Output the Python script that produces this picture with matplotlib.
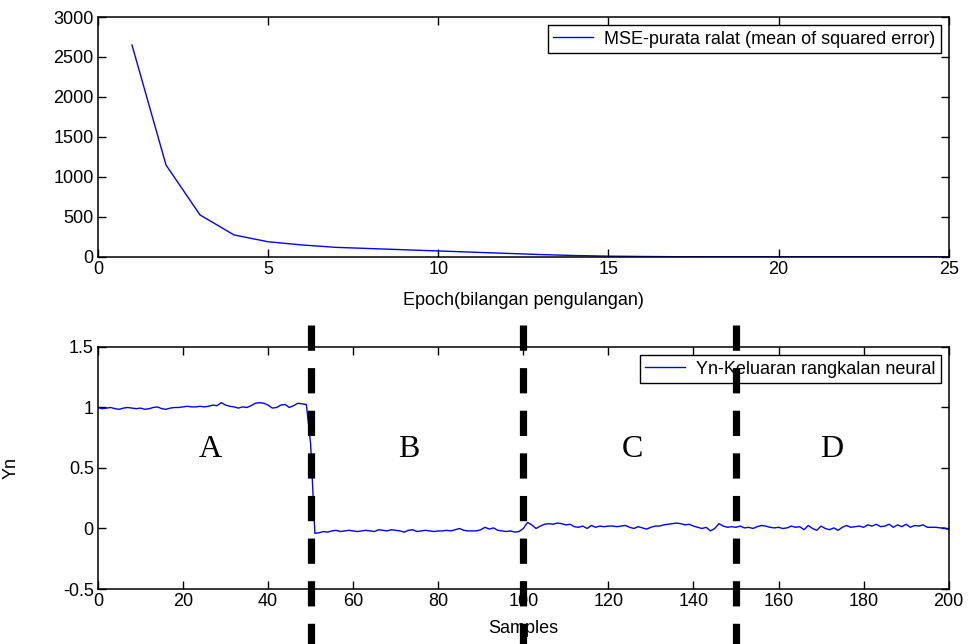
import matplotlib
matplotlib.use("Agg")
import matplotlib.pyplot as plt
from matplotlib.ticker import FuncFormatter

plt.rcParams['font.family'] = ['Liberation Sans', 'DejaVu Sans']
plt.rcParams['axes.unicode_minus'] = False

# training error per epoch
epochs = list(range(1, 26))
mse = [2650, 1150, 525, 275, 190, 150, 120, 105, 90, 75, 60, 45, 30, 18, 10,
       6, 3, 2, 2, 2, 2, 2, 2, 2, 2]

# network output per sample
samples = list(range(0, 201))
yn_a = [1.00, 0.99, 0.995, 1.00, 0.99, 0.985, 0.995, 1.00, 0.995, 0.99,
        0.995, 0.985, 0.99, 1.00, 1.005, 0.99, 0.985, 0.995, 1.00, 1.00,
        1.005, 1.01, 1.005, 1.005, 1.01, 1.005, 1.01, 1.02, 1.015, 1.04,
        1.02, 1.01, 1.005, 0.995, 1.005, 1.00, 1.015, 1.035, 1.04, 1.035,
        1.02, 0.995, 1.00, 1.02, 1.025, 1.00, 1.015, 1.035, 1.03, 1.025]
yn_b = [0.70,
        -0.04, -0.035, -0.025, -0.03, -0.02, -0.015, -0.025, -0.02, -0.015,
        -0.02, -0.025, -0.02, -0.015, -0.02, -0.025, -0.01, -0.015, -0.02, -0.01,
        -0.015, -0.02, -0.03, -0.015, -0.01, -0.025, -0.02, -0.015, -0.02, -0.025,
        -0.02, -0.02, -0.015, -0.02, -0.01, 0.00, -0.015, -0.02, -0.02, -0.02,
        -0.01, 0.01, -0.005, 0.005, -0.015, -0.02, -0.025, -0.02, -0.03, -0.025]
yn_c = [0.00, 0.05, 0.03, 0.00, 0.02, 0.035, 0.04, 0.035, 0.045, 0.04,
        0.03, 0.035, 0.015, 0.01, 0.02, 0.00, 0.025, 0.01, 0.02, 0.015,
        0.02, 0.02, 0.015, 0.02, 0.025, 0.01, 0.00, 0.015, 0.005, -0.005,
        0.01, 0.02, 0.02, 0.03, 0.035, 0.04, 0.045, 0.04, 0.03, 0.035,
        0.02, 0.01, 0.00, 0.01, -0.02, 0.00, 0.04, 0.02, 0.01, 0.015]
yn_d = [0.01, 0.02, 0.005, 0.01, 0.00, 0.015, 0.025, 0.02, 0.01, 0.005,
        0.01, 0.00, 0.005, 0.02, 0.01, 0.015, -0.01, 0.025, 0.00, -0.015,
        0.02, 0.00, -0.01, 0.005, -0.015, 0.01, 0.025, 0.01, 0.015, 0.02,
        0.01, 0.03, 0.02, 0.035, 0.015, 0.02, 0.035, 0.01, 0.03, 0.015,
        0.035, 0.01, 0.025, 0.02, 0.03, 0.01, 0.01, 0.01, 0.005, 0.005,
        -0.01]
yn = yn_a + yn_b + yn_c + yn_d

segment_bounds = [50, 100, 150]
region_labels = ['A', 'B', 'C', 'D']
region_label_x = [26.3, 73, 125.6, 172.5]

fig = plt.figure(figsize=(9.68, 6.44), dpi=100)
ax1 = fig.add_axes([0.1012, 0.601, 0.8788, 0.3726])
ax2 = fig.add_axes([0.1012, 0.0854, 0.8788, 0.3758])

fs = 13
fmt = FuncFormatter(lambda v, p: '%g' % v)
for ax in (ax1, ax2):
    ax.tick_params(direction='in', top=True, right=True, length=6, width=1,
                   labelsize=fs, pad=3)
    ax.tick_params(axis='y', pad=3)
    for s in ax.spines.values():
        s.set_linewidth(1.1)
    ax.xaxis.set_major_formatter(fmt)
    ax.yaxis.set_major_formatter(fmt)

leg_kw = dict(loc='upper right', fontsize=fs, fancybox=False,
              edgecolor='black', framealpha=1, borderaxespad=0.45,
              borderpad=0.3, handlelength=2.2, handletextpad=0.6)

ax1.plot(epochs, mse, color='#0000ff', lw=1.0,
         label='MSE-purata ralat (mean of squared error)')
ax1.set_xlim(0, 25)
ax1.set_ylim(0, 3000)
ax1.set_xticks(range(0, 26, 5))
ax1.set_yticks(range(0, 3001, 500))
ax1.set_xlabel('Epoch(bilangan pengulangan)', fontsize=fs, labelpad=10)
leg1 = ax1.legend(**leg_kw)
leg1.get_frame().set_linewidth(1.0)

ax2.plot(samples, yn, color='#0000ff', lw=1.0,
         label='Yn-Keluaran rangkalan neural')
ax2.set_xlim(0, 200)
ax2.set_ylim(-0.5, 1.5)
ax2.set_xticks(range(0, 201, 20))
ax2.set_yticks([-0.5, 0, 0.5, 1, 1.5])
ax2.set_xlabel('Samples', fontsize=fs, labelpad=7)
ax2.set_ylabel('Yn', fontsize=fs)
ax2.yaxis.set_label_coords(-0.0915, 0.5)
leg2 = ax2.legend(**leg_kw)
leg2.get_frame().set_linewidth(1.0)

# dashed separators between the regions, running past the axes
for b in segment_bounds:
    ax2.plot([b, b], [1.091, -0.23], transform=ax2.get_xaxis_transform(),
             color='black', lw=5.2, linestyle=(0, (3.5, 2.4)),
             solid_capstyle='butt', dash_capstyle='butt',
             clip_on=False, zorder=6)

for lab, x in zip(region_labels, region_label_x):
    ax2.text(x, 0.65, lab, ha='center', va='center', fontsize=23,
             family=['Liberation Serif', 'DejaVu Serif'])

plt.savefig('out.png', dpi=100)
